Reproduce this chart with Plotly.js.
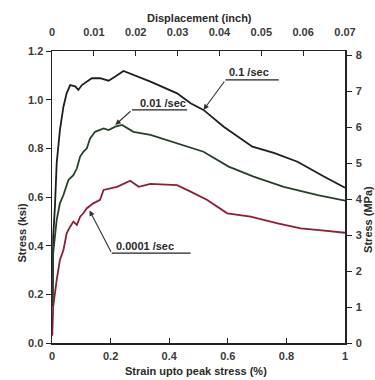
<!DOCTYPE html>
<html>
<head>
<meta charset="utf-8">
<script src="https://cdn.plot.ly/plotly-3.0.1.min.js"></script>
<style>html,body{margin:0;padding:0;background:#fff;}#chart{width:375px;height:380px;}</style>
</head>
<body>
<div id="chart"></div>
<script>
// Strain up to peak stress (%) and stress (ksi)
const strain01 = [0.002,0.004,0.010,0.016,0.027,0.039,0.050,0.062,0.079,0.090,0.102,0.119,0.136,0.164,0.193,0.216,0.244,0.336,0.427,0.473,0.517,0.586,0.684,0.757,0.838,0.928,1.0];
const stress01 = [0.15,0.437,0.560,0.739,0.875,0.971,1.026,1.060,1.055,1.040,1.060,1.074,1.088,1.088,1.078,1.095,1.118,1.074,1.026,0.985,0.958,0.889,0.807,0.781,0.745,0.684,0.638];

const strain001 = [0.002,0.004,0.016,0.027,0.039,0.056,0.073,0.085,0.096,0.107,0.119,0.130,0.147,0.176,0.193,0.216,0.239,0.278,0.336,0.427,0.473,0.517,0.603,0.688,0.791,0.907,1.0];
const stress001 = [0.15,0.369,0.506,0.574,0.608,0.670,0.690,0.718,0.766,0.786,0.800,0.841,0.868,0.882,0.875,0.889,0.896,0.868,0.855,0.821,0.804,0.786,0.725,0.684,0.642,0.608,0.585];

const strain00001 = [0.001,0.004,0.016,0.027,0.039,0.050,0.062,0.073,0.085,0.096,0.107,0.119,0.141,0.164,0.176,0.222,0.267,0.296,0.336,0.427,0.473,0.530,0.598,0.678,0.770,0.849,0.929,1.0];
const stress00001 = [0.03,0.149,0.259,0.341,0.382,0.451,0.478,0.499,0.485,0.519,0.533,0.554,0.574,0.588,0.629,0.642,0.667,0.642,0.654,0.649,0.622,0.588,0.533,0.519,0.492,0.471,0.462,0.453];

const displacementTicks = [0,0.01,0.02,0.03,0.04,0.05,0.06,0.07];
const seriesLabels = ["0.1 /sec","0.01 /sec","0.0001 /sec"];

const FONT = "Liberation Sans, Arial, sans-serif";
const tickFont = {family: FONT, size: 11, color: "#3a3a3a", weight: "bold"};
const titleFont = {family: FONT, size: 11, color: "#2a2a2a", weight: "bold"};

const traces = [
  {x: strain01, y: stress01, mode: "lines", line: {color: "#1e1e1e", width: 1.8}, name: seriesLabels[0], showlegend: false, hoverinfo: "skip"},
  {x: strain001, y: stress001, mode: "lines", line: {color: "#27402a", width: 1.8}, name: seriesLabels[1], showlegend: false, hoverinfo: "skip"},
  {x: strain00001, y: stress00001, mode: "lines", line: {color: "#8a1f35", width: 1.8}, name: seriesLabels[2], showlegend: false, hoverinfo: "skip"},
  {x: displacementTicks, y: displacementTicks.map(() => null), xaxis: "x2", yaxis: "y2", mode: "markers", showlegend: false, hoverinfo: "skip"}
];

function label(text, xc, yc) {
  return {text: text, x: xc, y: yc, xref: "x", yref: "y", showarrow: false, font: {family: FONT, size: 11, color: "#2a2a2a", weight: "bold"}};
}
function pointer(tipX, tipY, fromX, fromY) {
  return {x: tipX, y: tipY, ax: fromX, ay: fromY, axref: "x", ayref: "y", xref: "x", yref: "y", text: "", showarrow: true, arrowhead: 2, arrowsize: 1, arrowwidth: 1.1, arrowcolor: "#333"};
}
function underline(x0, x1, yv) {
  return {type: "line", xref: "x", yref: "y", x0: x0, x1: x1, y0: yv, y1: yv, line: {color: "#222", width: 1.3}};
}

const layout = {
  width: 375, height: 380,
  margin: {l: 52, r: 30, t: 51, b: 37, pad: 0},
  paper_bgcolor: "#fff", plot_bgcolor: "#fff",
  showlegend: false,
  xaxis: {range: [0, 1], dtick: 0.2, tick0: 0, showgrid: false, zeroline: false, showline: true, linecolor: "#222", linewidth: 1.5,
          ticks: "inside", ticklen: 5, tickcolor: "#222", tickfont: tickFont, ticklabelstandoff: 2, fixedrange: true},
  xaxis2: {range: [0, 0.07], dtick: 0.01, tick0: 0, overlaying: "x", side: "top", anchor: "y", showgrid: false, zeroline: false, showline: true, linecolor: "#222", linewidth: 1.5,
           ticks: "inside", ticklen: 5, tickcolor: "#222", tickfont: tickFont, ticklabelstandoff: 9, fixedrange: true},
  yaxis: {range: [0, 1.2], dtick: 0.2, tick0: 0, tickformat: ".1f", showgrid: false, zeroline: false, showline: true, linecolor: "#222", linewidth: 1.5,
          ticks: "outside", ticklen: 5, tickcolor: "#222", tickfont: tickFont, fixedrange: true},
  yaxis2: {range: [0, 8.12], dtick: 1, tick0: 0, overlaying: "y", side: "right", anchor: "x", showgrid: false, zeroline: false, showline: true, linecolor: "#222", linewidth: 1.5,
           ticks: "outside", ticklen: 5, tickcolor: "#222", tickfont: tickFont, ticklabelstandoff: 2, fixedrange: true},
  shapes: [
    underline(0.592, 0.774, 1.081),
    underline(0.273, 0.461, 0.958),
    underline(0.204, 0.473, 0.369)
  ],
  annotations: [
    label(seriesLabels[0], 0.672, 1.113),
    pointer(0.517, 0.958, 0.592, 1.081),
    label(seriesLabels[1], 0.378, 0.988),
    pointer(0.216, 0.896, 0.273, 0.958),
    label(seriesLabels[2], 0.318, 0.400),
    pointer(0.128, 0.545, 0.204, 0.369),
    {text: "Displacement (inch)", xref: "paper", yref: "paper", x: 0.503, y: 1.0, yshift: 41, showarrow: false, font: titleFont},
    {text: "Strain upto peak stress (%)", xref: "paper", yref: "paper", x: 0.49, y: 0, yshift: -36, showarrow: false, font: titleFont},
    {text: "Stress (ksi)", xref: "paper", yref: "paper", x: 0, xshift: -38, y: 0.378, showarrow: false, textangle: -90, font: titleFont},
    {text: "Stress (MPa)", xref: "paper", yref: "paper", x: 1, xshift: 31, y: 0.30, showarrow: false, textangle: -90, font: titleFont}
  ]
};

Plotly.newPlot("chart", traces, layout, {staticPlot: true, displayModeBar: false});
</script>
</body>
</html>
